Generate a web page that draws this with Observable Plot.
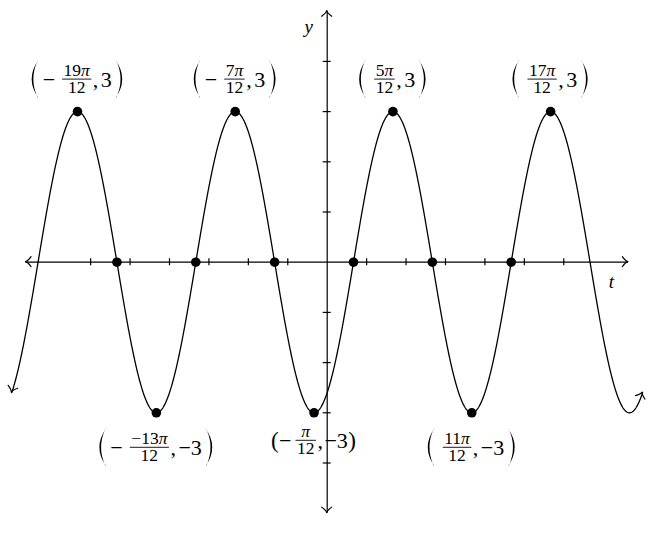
<!DOCTYPE html>
<html>
<head>
<meta charset="utf-8">
<script src="https://cdn.jsdelivr.net/npm/d3@7"></script>
<script src="https://cdn.jsdelivr.net/npm/@observablehq/plot@0.6"></script>
<style>
  html, body { margin: 0; padding: 0; background: #fff; }
  #chart svg { display: block; }
</style>
</head>
<body>
<div id="chart"></div>
<script>
// ---- function drawn: y = A · sin(B·t − C) ----
const amplitude = 3;
const frequency = 2;
const phase = Math.PI / 3;
const tStart = -2 * Math.PI;
const tEnd = 2 * Math.PI;

// ---- marked points (t in units of π/12) ----
const peakT = [-19, -7, 5, 17];              // y = 3
const troughT = [-13, -1, 11];               // y = -3
const zeroT = [-16, -10, -4, 2, 8, 14];      // y = 0

// ---- axes ----
const xAxisRange = [-6, 6];
const yAxisRange = [-5, 5];
const xTicksQuarterPi = [-6, -5, -4, -3, -2, -1, 1, 2, 3, 4, 5, 6]; // multiples of π/4
const yTicks = [-4, -3, -2, -1, 1, 2, 3, 4];
const xAxisLabel = "t";
const yAxisLabel = "y";

// ---- point labels ----
const labelT   = [-19, -7, 5, 17, -13, -1, 11];           // in π/12
const labelSign = ["−", "−", "", "", "−", "−", ""];
const labelNum = ["19π", "7π", "5π", "17π", "−13π", "π", "11π"];
const labelDen = ["12", "12", "12", "12", "12", "12", "12"];
const labelVal = ["3", "3", "3", "3", "−3", "−3", "−3"];
const labelAbove = [true, true, true, true, false, false, false];
const labelBigParen = [true, true, true, true, true, false, true];

// ---- derived tables ----
const curveData = d3.range(0, 1201).map(i => {
  const t = tStart + (tEnd - tStart) * i / 1200;
  return {t, y: amplitude * Math.sin(frequency * t - phase)};
});
const points = [
  ...peakT.map(k => ({t: k * Math.PI / 12, y: 3})),
  ...troughT.map(k => ({t: k * Math.PI / 12, y: -3})),
  ...zeroT.map(k => ({t: k * Math.PI / 12, y: 0}))
];

const FONT = "'Liberation Serif', 'Times New Roman', serif";
const MAIN = 22, FRAC = 17.5;

const W = 662, H = 537;
const originX = 326.7, originY = 261.7, unit = 50.2;

function head(g, xt, yt, xf, yf) {
  const a = Math.atan2(yt - yf, xt - xf);
  const L = 7.5, h = 42 * Math.PI / 180;
  const p1 = [xt - L * Math.cos(a - h), yt - L * Math.sin(a - h)];
  const p2 = [xt - L * Math.cos(a + h), yt - L * Math.sin(a + h)];
  const c1 = [xt - 0.35 * L * Math.cos(a - h * 0.35), yt - 0.35 * L * Math.sin(a - h * 0.35)];
  const c2 = [xt - 0.35 * L * Math.cos(a + h * 0.35), yt - 0.35 * L * Math.sin(a + h * 0.35)];
  g.append("path").attr("d", `M${p1}Q${c1} ${xt},${yt}Q${c2} ${p2}`);
}

function arrowMark(index, scales) {
  const x = scales.x, y = scales.y;
  const g = d3.create("svg:g")
    .attr("fill", "none").attr("stroke", "black")
    .attr("stroke-width", 1.2).attr("stroke-linecap", "round").attr("stroke-linejoin", "round");
  head(g, x(xAxisRange[1]), y(0), x(0), y(0));
  head(g, x(xAxisRange[0]), y(0), x(0), y(0));
  head(g, x(0), y(yAxisRange[1]), x(0), y(0));
  head(g, x(0), y(yAxisRange[0]), x(0), y(0));
  const n = curveData.length;
  const a = curveData[0], a2 = curveData[4];
  const b = curveData[n - 1], b2 = curveData[n - 5];
  head(g, x(a.t), y(a.y), x(a2.t), y(a2.y));
  head(g, x(b.t), y(b.y), x(b2.t), y(b2.y));
  return g.node();
}

function paren(g, x0, h, right) {
  const w = 6.4, th = 1.7;
  let d;
  if (!right) {
    d = `M${x0 + w},${-h / 2} Q${x0 - w},0 ${x0 + w},${h / 2} L${x0 + w - 0.6},${h / 2 - 0.4} Q${x0 - w + 2 * th + 0.6},0 ${x0 + w - 0.6},${-h / 2 + 0.4} Z`;
  } else {
    d = `M${x0},${-h / 2} Q${x0 + 2 * w},0 ${x0},${h / 2} L${x0 + 0.6},${h / 2 - 0.4} Q${x0 + 2 * w - 2 * th - 0.6},0 ${x0 + 0.6},${-h / 2 + 0.4} Z`;
  }
  g.append("path").attr("d", d).attr("fill", "black");
}

function labelsMark(index, scales) {
  const x = scales.x, y = scales.y;
  const ctx = document.createElement("canvas").getContext("2d");
  const mw = (s, size, italic) => {
    ctx.font = `${italic ? "italic " : ""}${size}px 'Liberation Serif'`;
    return ctx.measureText(s).width;
  };
  const root = d3.create("svg:g").attr("font-family", FONT).attr("fill", "black");
  labelT.forEach((lt, i) => {
    const big = labelBigParen[i];
    const above = labelAbove[i];
    const cx = x(lt * Math.PI / 12);
    const barY = y(above ? 3 : -3) + (above ? -32 : (big ? 35 : 28));
    const g = root.append("g");
    const txt = (s, xx, yy, size, anchor) =>
      g.append("text").attr("x", xx).attr("y", yy).attr("font-size", size)
        .attr("text-anchor", anchor || "start").text(s);
    // text with italic π
    const piText = (s, xx, yy, size) => {
      const t = g.append("text").attr("x", xx).attr("y", yy).attr("font-size", size).attr("text-anchor", "middle");
      const parts = s.split("π");
      parts.forEach((p, k) => {
        if (p) t.append("tspan").text(p);
        if (k < parts.length - 1) t.append("tspan").attr("font-style", "italic").text("π");
      });
    };
    const piWidth = (s, size) => {
      const parts = s.split("π");
      let wsum = 0;
      parts.forEach((p, k) => { wsum += mw(p, size); if (k < parts.length - 1) wsum += mw("π", size, true); });
      return wsum;
    };
    const base = 7.5;
    let c = 0;
    if (big) { paren(g, c, 37, false); c += 6.5; }
    else { txt("(", c, base + 0.5, MAIN + 1); c += mw("(", MAIN + 1); }
    if (labelSign[i]) {
      c += big ? 4.5 : 0.3;
      txt(labelSign[i], c, base, MAIN);
      c += mw(labelSign[i], MAIN) + (big ? 7 : 4);
    } else {
      c += big ? 8.5 : 2;
    }
    const nw = piWidth(labelNum[i], FRAC), dw = mw(labelDen[i], FRAC);
    const bw = Math.max(nw, dw) + 3;
    g.append("line").attr("x1", c).attr("x2", c + bw).attr("y1", 0).attr("y2", 0)
      .attr("stroke", "black").attr("stroke-width", 0.9);
    piText(labelNum[i], c + bw / 2, -3, FRAC);
    piText(labelDen[i], c + bw / 2, 13.5, FRAC);
    c += bw + 1.5;
    txt(",", c, base, MAIN);
    c += mw(",", MAIN) + (big ? 2.5 : 1.5);
    txt(labelVal[i], c, base, MAIN);
    c += mw(labelVal[i], MAIN);
    if (big) { c += 4; paren(g, c, 37, true); c += 6.5; }
    else { c += 0.5; txt(")", c, base + 0.5, MAIN + 1); c += mw(")", MAIN + 1); }
    g.attr("transform", `translate(${cx - c / 2},${barY})`);
  });
  return root.node();
}

const chart = Plot.plot({
  width: W,
  height: H,
  margin: 0,
  x: {domain: [-originX / unit, (W - originX) / unit], range: [0, W], axis: null},
  y: {domain: [-(H - originY) / unit, originY / unit], range: [H, 0], axis: null},
  style: {background: "white", fontFamily: FONT},
  marks: [
    Plot.ruleY([0], {x1: xAxisRange[0], x2: xAxisRange[1], stroke: "black", strokeWidth: 1.2}),
    Plot.ruleX([0], {y1: yAxisRange[0], y2: yAxisRange[1], stroke: "black", strokeWidth: 1.2}),
    Plot.ruleX(xTicksQuarterPi, {x: d => d * Math.PI / 4, y1: -0.07, y2: 0.07, stroke: "black", strokeWidth: 1.2}),
    Plot.ruleY(yTicks, {y: d => d, x1: -0.08, x2: 0.08, stroke: "black", strokeWidth: 1.2}),
    Plot.line(curveData, {x: "t", y: "y", stroke: "black", strokeWidth: 1.3}),
    arrowMark,
    Plot.dot(points, {x: "t", y: "y", r: 4.8, fill: "black", stroke: null}),
    Plot.text([yAxisLabel], {x: -0.37, y: 4.69, text: d => d, fontSize: 19, fontStyle: "italic", fontFamily: FONT, fill: "black"}),
    Plot.text([xAxisLabel], {x: 5.66, y: -0.385, text: d => d, fontSize: 19, fontStyle: "italic", fontFamily: FONT, fill: "black"}),
    labelsMark
  ]
});
document.getElementById("chart").appendChild(chart);
</script>
</body>
</html>
